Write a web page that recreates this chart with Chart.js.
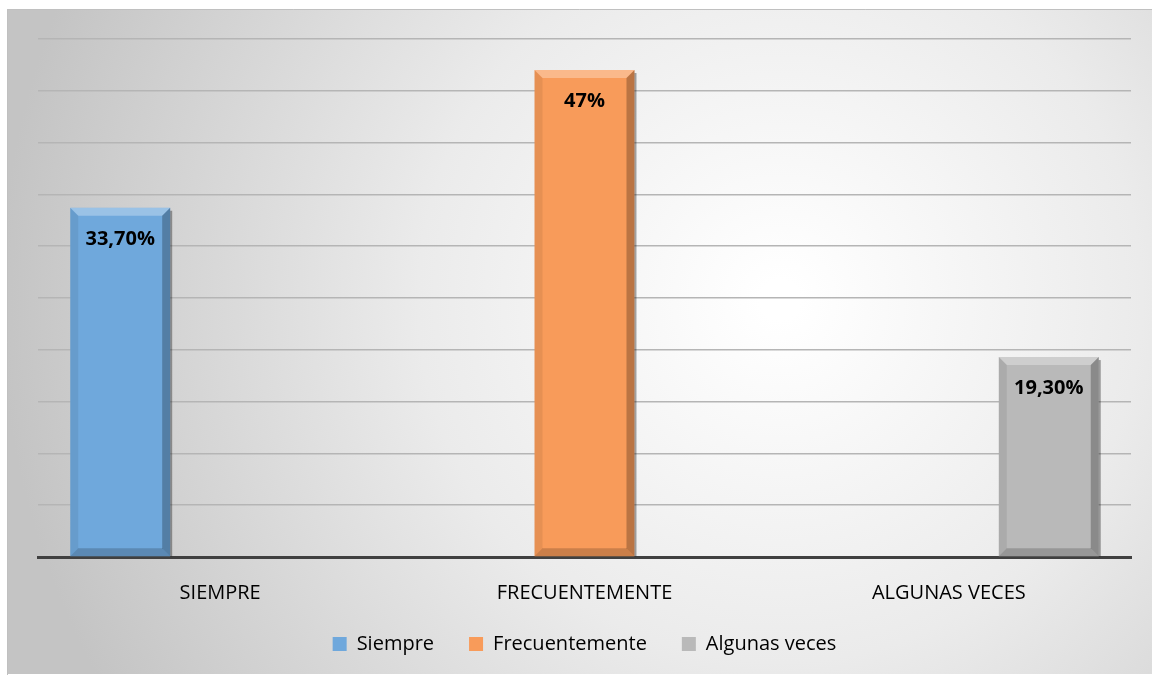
<!DOCTYPE html>
<html>
<head>
<meta charset="utf-8">
<script src="https://cdn.jsdelivr.net/npm/chart.js@4.4.0/dist/chart.umd.min.js"></script>
<style>
  html, body { margin: 0; padding: 0; background: #fff; }
  #wrap { width: 1152px; height: 675px; }
</style>
</head>
<body>
<div id="wrap"><canvas id="chart" width="1152" height="675"></canvas></div>
<script>
// data
const categories = ['SIEMPRE', 'FRECUENTEMENTE', 'ALGUNAS VECES'];
const seriesNames = ['Siempre', 'Frecuentemente', 'Algunas veces'];
const siempre = [33.7, null, null];
const frecuentemente = [null, 47, null];
const algunasVeces = [null, null, 19.3];
const valueLabels = ['33,70%', '47%', '19,30%'];
const yMax = 50;
const yStep = 5;

const colors = ['#6FA8DC', '#F89B5A', '#B9B9B9'];
const fontName = '"Open Sans", "Liberation Sans", sans-serif';

// grey frame with soft radial light behind the plot
const backdrop = {
    id: 'backdrop',
    beforeDraw(chart) {
        const ctx = chart.ctx;
        ctx.save();
        ctx.fillStyle = '#ffffff';
        ctx.fillRect(0, 0, chart.width, chart.height);
        const g = ctx.createRadialGradient(780, 300, 20, 780, 300, 780);
        g.addColorStop(0, '#ffffff');
        g.addColorStop(0.45, '#ebebeb');
        g.addColorStop(1, '#c4c4c4');
        ctx.fillStyle = g;
        ctx.fillRect(7, 9, chart.width - 7, chart.height - 10);
        ctx.strokeStyle = '#c0c0c0';
        ctx.lineWidth = 1;
        ctx.beginPath();
        ctx.moveTo(7.5, chart.height);
        ctx.lineTo(7.5, 9.5);
        ctx.lineTo(chart.width, 9.5);
        ctx.stroke();
        ctx.restore();
    }
};

// bevel edges + value labels on bars
const bevel = {
    id: 'bevel',
    afterDatasetsDraw(chart) {
        const ctx = chart.ctx;
        chart.data.datasets.forEach((ds, di) => {
            const meta = chart.getDatasetMeta(di);
            meta.data.forEach((bar, i) => {
                if (ds.data[i] == null) return;
                const l = bar.x - bar.width / 2, r = bar.x + bar.width / 2;
                const t = bar.y, b = bar.base, e = 8;
                ctx.save();
                // top light
                ctx.fillStyle = 'rgba(255,255,255,0.3)';
                ctx.beginPath();
                ctx.moveTo(l, t); ctx.lineTo(r, t); ctx.lineTo(r - e, t + e); ctx.lineTo(l + e, t + e);
                ctx.closePath(); ctx.fill();
                // left
                ctx.fillStyle = 'rgba(0,0,0,0.07)';
                ctx.beginPath();
                ctx.moveTo(l, t); ctx.lineTo(l + e, t + e); ctx.lineTo(l + e, b - e); ctx.lineTo(l, b);
                ctx.closePath(); ctx.fill();
                // right
                ctx.fillStyle = 'rgba(0,0,0,0.25)';
                ctx.beginPath();
                ctx.moveTo(r, t); ctx.lineTo(r - e, t + e); ctx.lineTo(r - e, b - e); ctx.lineTo(r, b);
                ctx.closePath(); ctx.fill();
                // bottom
                ctx.fillStyle = 'rgba(0,0,0,0.18)';
                ctx.beginPath();
                ctx.moveTo(l, b); ctx.lineTo(l + e, b - e); ctx.lineTo(r - e, b - e); ctx.lineTo(r, b);
                ctx.closePath(); ctx.fill();
                // outer shadow line on right edge
                ctx.strokeStyle = 'rgba(0,0,0,0.35)';
                ctx.lineWidth = 2;
                ctx.beginPath();
                ctx.moveTo(r + 1, t + 3); ctx.lineTo(r + 1, b);
                ctx.stroke();
                // label
                ctx.fillStyle = '#000';
                ctx.font = 'bold 20px ' + fontName;
                ctx.textAlign = 'center';
                ctx.textBaseline = 'middle';
                ctx.fillText(valueLabels[di], bar.x, t + 31);
                ctx.restore();
            });
        });
    }
};

Chart.defaults.font.family = fontName;
Chart.defaults.color = '#000';

const chart = document.querySelector('#chart').getContext('2d');
new Chart(chart, {
    type: 'bar',
    data: {
        labels: categories,
        datasets: [
            { label: seriesNames[0], data: siempre, backgroundColor: colors[0] },
            { label: seriesNames[1], data: frecuentemente, backgroundColor: colors[1] },
            { label: seriesNames[2], data: algunasVeces, backgroundColor: colors[2] }
        ]
    },
    options: {
        responsive: false,
        animation: false,
        layout: { padding: { left: 38, right: 21, top: 39, bottom: 11 } },
        datasets: { bar: { categoryPercentage: 0.823, barPercentage: 1, skipNull: false } },
        plugins: {
            tooltip: { enabled: false },
            legend: {
                position: 'bottom',
                labels: {
                    boxWidth: 14, boxHeight: 14, padding: 35,
                    font: { size: 20 }, color: '#000'
                }
            }
        },
        scales: {
            x: {
                grid: { display: false },
                border: { color: '#404040', width: 3 },
                ticks: { font: { size: 20 }, padding: 16, color: '#000' },
                afterFit(s) { s.height = 42; }
            },
            y: {
                min: 0, max: yMax,
                ticks: { display: false, stepSize: yStep },
                grid: { color: '#b5b5b5', lineWidth: 1.5, drawTicks: false },
                border: { display: false },
                afterFit(s) { s.width = 0; }
            }
        }
    },
    plugins: [backdrop, bevel]
});
</script>
</body>
</html>
